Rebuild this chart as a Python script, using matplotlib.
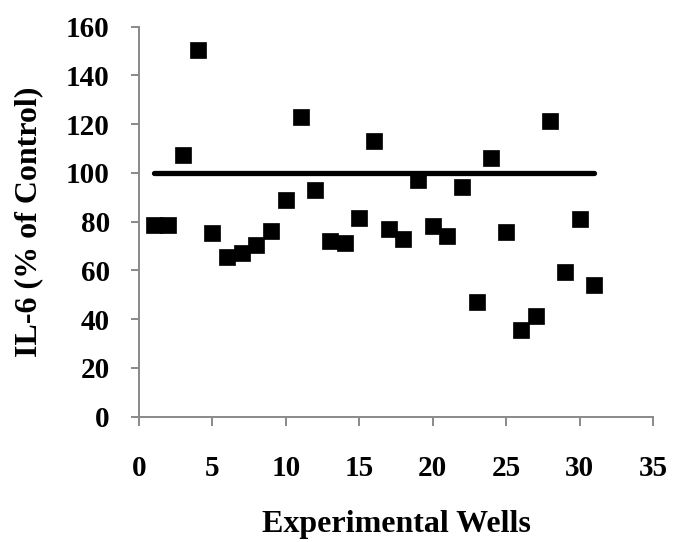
import matplotlib.pyplot as plt

# well number and IL-6 response (% of control)
wells = list(range(1, 32))
il6 = [78.5, 78.5, 107.4, 150.3, 75.5, 65.5, 67.0, 70.6, 76.2, 88.9,
       122.8, 92.9, 72.2, 71.1, 81.6, 113.0, 77.0, 73.0, 97.0, 78.1,
       74.0, 94.1, 47.1, 106.3, 75.6, 35.7, 41.2, 121.2, 59.5, 81.0, 53.9]

control_x = [1, 31]
control_y = [100, 100]

x_ticks = [0, 5, 10, 15, 20, 25, 30, 35]
y_ticks = [0, 20, 40, 60, 80, 100, 120, 140, 160]

plt.rcParams["font.family"] = ["Liberation Serif", "DejaVu Serif"]
plt.rcParams["font.weight"] = "bold"

fig = plt.figure(figsize=(6.73, 5.42), dpi=100)
ax = fig.add_axes([139 / 673, 1 - 416.7 / 542, 514 / 673, 390 / 542])

ax.plot(control_x, control_y, color="black", linewidth=3.8,
        solid_capstyle="round", zorder=2)
ax.plot(wells, il6, linestyle="none", marker="s", markersize=11.5,
        color="black", markeredgewidth=0.5, zorder=3)

ax.set_xlim(0, 35)
ax.set_ylim(0, 160)
ax.set_xticks(x_ticks)
ax.set_yticks(y_ticks)

grey = "#898989"
for side in ["top", "right"]:
    ax.spines[side].set_visible(False)
for side in ["left", "bottom"]:
    ax.spines[side].set_color(grey)
    ax.spines[side].set_linewidth(1.4)

ax.tick_params(axis="x", direction="out", length=6.5, width=1.4, color=grey,
               pad=21, labelsize=21)
ax.tick_params(axis="y", direction="out", length=6, width=1.4, color=grey,
               pad=15, labelsize=21)
for lab in ax.get_xticklabels() + ax.get_yticklabels():
    lab.set_fontweight("bold")

ax.set_xlabel("Experimental Wells", fontsize=23, fontweight="bold")
ax.xaxis.label.set_va("baseline")
ax.xaxis.set_label_coords(0.5, (416.7 - 532) / 390)

ax.set_ylabel("IL-6 (% of Control)", fontsize=23, fontweight="bold")
ax.yaxis.label.set_va("center")
ax.yaxis.label.set_ha("center")
ax.yaxis.set_label_coords((28.5 - 139) / 514, 0.5)

fig.savefig("out.png", dpi=100)
